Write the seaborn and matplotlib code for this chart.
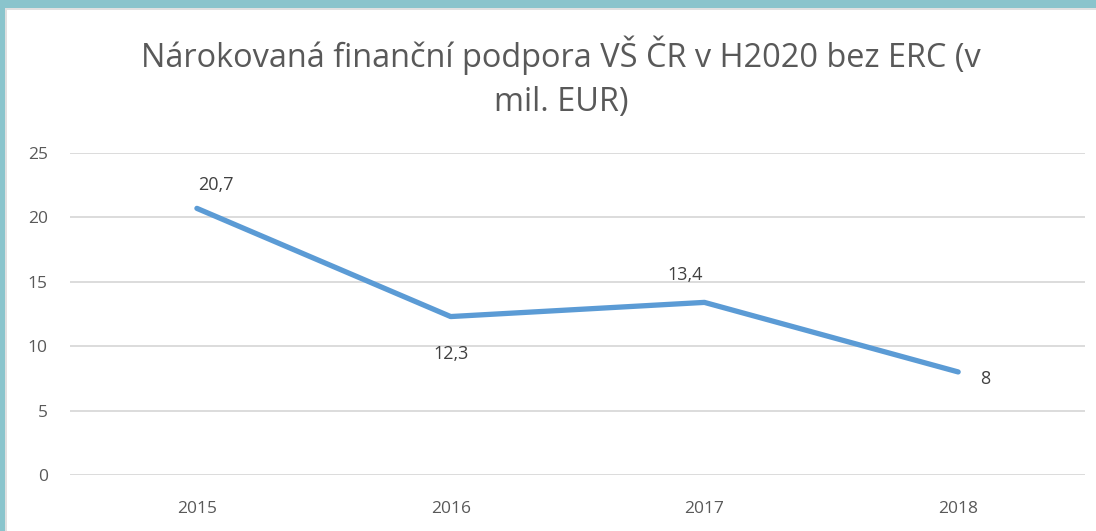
import matplotlib
matplotlib.use("Agg")
import matplotlib.pyplot as plt
import seaborn as sns
import pandas as pd
from matplotlib.patches import Rectangle

# Data
years = ["2015", "2016", "2017", "2018"]
values = [20.7, 12.3, 13.4, 8]
value_labels = ["20,7", "12,3", "13,4", "8"]
y_ticks = [0, 5, 10, 15, 20, 25]

df = pd.DataFrame({"year": years, "value": values})

sns.set_style("white")
plt.rcParams["font.family"] = ["Open Sans", "DejaVu Sans"]

fig = plt.figure(figsize=(10.96, 5.31), dpi=100)
ax = fig.add_axes([0.0639, 0.1055, 0.9261, 0.6064])

sns.lineplot(data=df, x="year", y="value", ax=ax, color="#5B9BD5",
             linewidth=3.8, solid_capstyle="round", sort=False)

ax.set_xlim(-0.5, len(years) - 0.5)
ax.set_ylim(0, 25)
ax.set_yticks(y_ticks)
ax.set_yticklabels([str(t) for t in y_ticks])
ax.grid(axis="y", color="#D9D9D9", linewidth=1.3)
ax.grid(axis="x", visible=False)
for s in ax.spines.values():
    s.set_visible(False)
ax.tick_params(axis="both", length=0, labelsize=12.5, labelcolor="#595959")
ax.tick_params(axis="y", pad=16)
ax.tick_params(axis="x", pad=19)
ax.set_xlabel("")
ax.set_ylabel("")

# Data labels
offsets = [(14, 17), (0, -27), (-14, 19.5), (19.5, -5)]
for i, (v, lab) in enumerate(zip(values, value_labels)):
    ax.annotate(lab, (i, v), xytext=offsets[i], textcoords="offset points",
                ha="center", va="center", fontsize=13, color="#404040")

fig.text(0.512, 0.855, "Nárokovaná finanční podpora VŠ ČR v H2020 bez ERC (v\nmil. EUR)",
         ha="center", va="center", fontsize=23.4, color="#595959", linespacing=1.45)

# Frame border
fig.patches.append(Rectangle((0, 1 - 8 / 531), 1, 8 / 531, transform=fig.transFigure,
                             facecolor="#8AC4CC", edgecolor="none"))
fig.patches.append(Rectangle((0, 0), 5 / 1096, 1, transform=fig.transFigure,
                             facecolor="#8AC4CC", edgecolor="none"))
fig.patches.append(Rectangle((5 / 1096, 0), 2 / 1096, 1 - 8 / 531, transform=fig.transFigure,
                             facecolor="#E0E0E0", edgecolor="none"))
fig.patches.append(Rectangle((5 / 1096, 1 - 10 / 531), 1, 2 / 531, transform=fig.transFigure,
                             facecolor="#E0E0E0", edgecolor="none"))

fig.savefig("out.png", dpi=100)
